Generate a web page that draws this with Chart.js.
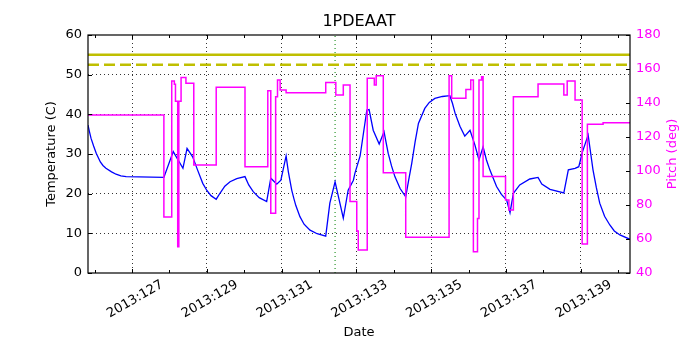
<!DOCTYPE html>
<html>
<head>
<meta charset="utf-8">
<script src="https://cdn.jsdelivr.net/npm/chart.js@4/dist/chart.umd.min.js"></script>
<style>
  html, body { margin: 0; padding: 0; background: #fff; }
  #wrap { width: 700px; height: 350px; }
</style>
</head>
<body>
<div id="wrap"><canvas id="c" width="700" height="350"></canvas></div>
<script>
// temperature (left axis), day of year 2013
const tempDays = [125.82, 125.86, 125.9, 125.97, 126.04, 126.1, 126.15, 126.22, 126.3, 126.45,
  126.57, 126.7, 126.84, 127.85,
  128.1, 128.36, 128.47, 128.62, 128.75, 128.89, 129.0, 129.11, 129.25, 129.35, 129.48,
  129.62, 129.8, 130.02, 130.12, 130.24, 130.4, 130.6, 130.71, 130.87, 130.98, 131.12,
  131.18, 131.27, 131.33, 131.38, 131.49, 131.6, 131.76, 131.95, 132.18, 132.29, 132.43,
  132.65, 132.78, 132.92, 132.96, 133.1, 133.28, 133.34, 133.45, 133.61, 133.74, 133.85,
  133.94, 134.03, 134.17, 134.32, 134.4, 134.48, 134.57, 134.66, 134.83, 134.95, 135.1,
  135.3, 135.5, 135.57, 135.64, 135.77, 135.9, 136.04, 136.17, 136.28, 136.39, 136.48,
  136.57, 136.75, 136.88, 137.02, 137.11, 137.2, 137.37, 137.64, 137.86, 137.96, 138.18,
  138.55, 138.67, 138.85, 138.95, 139.05, 139.2, 139.33, 139.42, 139.51, 139.64, 139.78,
  139.9, 140.05, 140.32];
const tempValues = [37.3, 35.6, 34.0, 32.0, 30.2, 29.0, 28.0, 27.1, 26.4, 25.5,
  24.9, 24.5, 24.3, 24.1,
  30.6, 26.4, 31.4, 29.3, 26.0, 22.6, 20.8, 19.5, 18.6, 20.1, 21.9,
  23.0, 23.8, 24.3, 22.2, 20.5, 19.0, 18.0, 23.9, 22.4, 23.4, 29.5,
  25.5, 20.9, 18.7, 17.0, 14.2, 12.3, 10.8, 9.9, 9.3, 17.6, 23.0,
  13.8, 20.9, 23.4, 25.1, 29.5, 41.1, 41.2, 36.0, 32.5, 35.6, 30.2,
  27.0, 24.3, 21.3, 19.2, 23.5, 27.6, 33.0, 37.7, 41.5, 43.0, 44.0,
  44.5, 44.7, 42.8, 40.3, 37.0, 34.5, 36.0, 32.3, 28.5, 31.8, 28.5,
  26.0, 21.8, 19.8, 18.4, 15.2, 20.1, 22.2, 23.7, 24.1, 22.4, 21.1,
  20.2, 26.0, 26.4, 26.8, 30.6, 34.8, 26.0, 21.5, 17.6, 14.3, 12.1,
  10.6, 9.6, 8.5];

// pitch (right axis), value holds from each day to the next
const pitchDays = [125.82, 127.85, 128.06, 128.13, 128.16, 128.22, 128.25, 128.31, 128.44,
  128.65, 129.25, 130.02, 130.63, 130.71, 130.84, 130.89, 130.96, 131.12, 132.18, 132.45,
  132.65, 132.83, 133.01, 133.05, 133.29, 133.48, 133.53, 133.72, 134.32, 135.48, 135.55,
  135.93, 136.06, 136.13, 136.24, 136.28, 136.35, 136.39, 136.99, 137.08, 137.2, 137.86,
  138.55, 138.64, 138.85, 139.04, 139.18, 139.6, 140.32];
const pitchValues = [133, 73, 153, 151, 141, 55.5, 141, 155, 151.6,
  103.5, 149.2, 102.5, 147.2, 75.1, 143.7, 153.5, 147.6, 146, 152, 144.7,
  150.6, 82, 64.7, 53.5, 154.5, 150.6, 156, 99, 61, 156, 142.8,
  148, 153.5, 52.5, 72, 153.5, 155.5, 96.7, 83, 77, 143.7, 151.2,
  144.7, 153, 141.8, 57, 127.5, 128.4, 128.4];

const limitSolid = 55;
const limitDashed = 52.5;
const markerDay = 132.43;
const xRange = [125.82, 140.32];
const tickDays = [127, 129, 131, 133, 135, 137, 139];

const toXY = (xs, ys) => xs.map((x, i) => ({ x: x, y: ys[i] }));

Chart.defaults.font.family = 'DejaVu Sans';
Chart.defaults.font.size = 13;
Chart.defaults.color = '#000';

// inward tick marks, frame and the right axis title
const frameTicks = {
  id: 'frameTicks',
  afterDatasetsDraw(chart) {
    const { ctx, chartArea: a, scales } = chart;
    ctx.save();
    ctx.strokeStyle = '#000';
    ctx.lineWidth = 1;
    ctx.setLineDash([]);
    ctx.beginPath();
    scales.x.ticks.forEach(t => {
      const px = Math.round(scales.x.getPixelForValue(t.value)) + 0.5;
      const len = tickDays.includes(t.value) ? 4 : 3;
      ctx.moveTo(px, a.bottom); ctx.lineTo(px, a.bottom - len);
      ctx.moveTo(px, a.top); ctx.lineTo(px, a.top + len);
    });
    scales.y.ticks.forEach(t => {
      const py = Math.round(scales.y.getPixelForValue(t.value)) + 0.5;
      ctx.moveTo(a.left, py); ctx.lineTo(a.left + 4, py);
    });
    scales.y1.ticks.forEach(t => {
      const py = Math.round(scales.y1.getPixelForValue(t.value)) + 0.5;
      ctx.moveTo(a.right, py); ctx.lineTo(a.right - 4, py);
    });
    ctx.stroke();
    ctx.lineWidth = 1.2;
    ctx.strokeRect(a.left, a.top, a.right - a.left, a.bottom - a.top);

    ctx.fillStyle = '#ff00ff';
    ctx.font = '13px "DejaVu Sans"';
    ctx.textAlign = 'center';
    ctx.textBaseline = 'middle';
    ctx.translate(673, (a.top + a.bottom) / 2);
    ctx.rotate(-Math.PI / 2);
    ctx.fillText('Pitch (deg)', 0, 0);
    ctx.restore();
  }
};

new Chart(document.getElementById('c'), {
  type: 'line',
  data: {
    datasets: [
      {
        data: toXY(pitchDays, pitchValues),
        yAxisID: 'y1',
        borderColor: '#ff00ff',
        borderWidth: 1.5,
        stepped: 'before',
        pointRadius: 0
      },
      {
        data: toXY(tempDays, tempValues),
        yAxisID: 'y',
        borderColor: '#0000ff',
        borderWidth: 1.3,
        pointRadius: 0
      },
      {
        data: toXY(xRange, [limitSolid, limitSolid]),
        yAxisID: 'y',
        borderColor: '#bfbf00',
        borderWidth: 2.5,
        pointRadius: 0
      },
      {
        data: toXY(xRange, [limitDashed, limitDashed]),
        yAxisID: 'y',
        borderColor: '#bfbf00',
        borderWidth: 2.5,
        borderDash: [11, 5],
        pointRadius: 0
      },
      {
        data: toXY([markerDay, markerDay], [0, 60]),
        yAxisID: 'y',
        borderColor: '#008000',
        borderWidth: 1,
        borderDash: [1, 3],
        pointRadius: 0
      }
    ]
  },
  options: {
    responsive: false,
    animation: false,
    events: [],
    layout: { padding: 0 },
    plugins: {
      legend: { display: false },
      tooltip: { enabled: false },
      title: {
        display: true,
        text: '1PDEAAT',
        fullSize: false,
        font: { size: 16, weight: 'normal' },
        padding: { top: 12, bottom: 3.8 }
      }
    },
    scales: {
      x: {
        type: 'linear',
        min: xRange[0],
        max: xRange[1],
        afterFit: s => { s.height = 77; s.paddingLeft = 0; s.paddingRight = 0; },
        ticks: {
          stepSize: 1,
          includeBounds: false,
          autoSkip: false,
          minRotation: 30,
          maxRotation: 30,
          padding: 4,
          labelOffset: 30,
          callback: v => tickDays.includes(v) ? '2013:' + v : ''
        },
        grid: {
          drawTicks: false,
          lineWidth: 0.8,
          color: ctx => tickDays.includes(ctx.tick.value) ? '#000' : 'rgba(0,0,0,0)'
        },
        border: { display: false, dash: [1, 3] },
        title: { display: true, text: 'Date', padding: { top: 0, bottom: 10 } }
      },
      y: {
        position: 'left',
        min: 0,
        max: 60,
        afterFit: s => { s.width = 88; },
        ticks: { stepSize: 10, padding: 6 },
        grid: {
          drawTicks: false,
          lineWidth: 0.8,
          color: ctx => (ctx.tick.value > 0 && ctx.tick.value < 60) ? '#000' : 'rgba(0,0,0,0)'
        },
        border: { display: false, dash: [1, 3] },
        title: { display: true, text: 'Temperature (C)', padding: { top: 44, bottom: 0 } }
      },
      y1: {
        position: 'right',
        min: 40,
        max: 180,
        afterFit: s => { s.width = 70; },
        ticks: { stepSize: 20, padding: 6, color: '#ff00ff' },
        grid: { drawOnChartArea: false, drawTicks: false },
        border: { display: false }
      }
    }
  },
  plugins: [frameTicks]
});
</script>
</body>
</html>
